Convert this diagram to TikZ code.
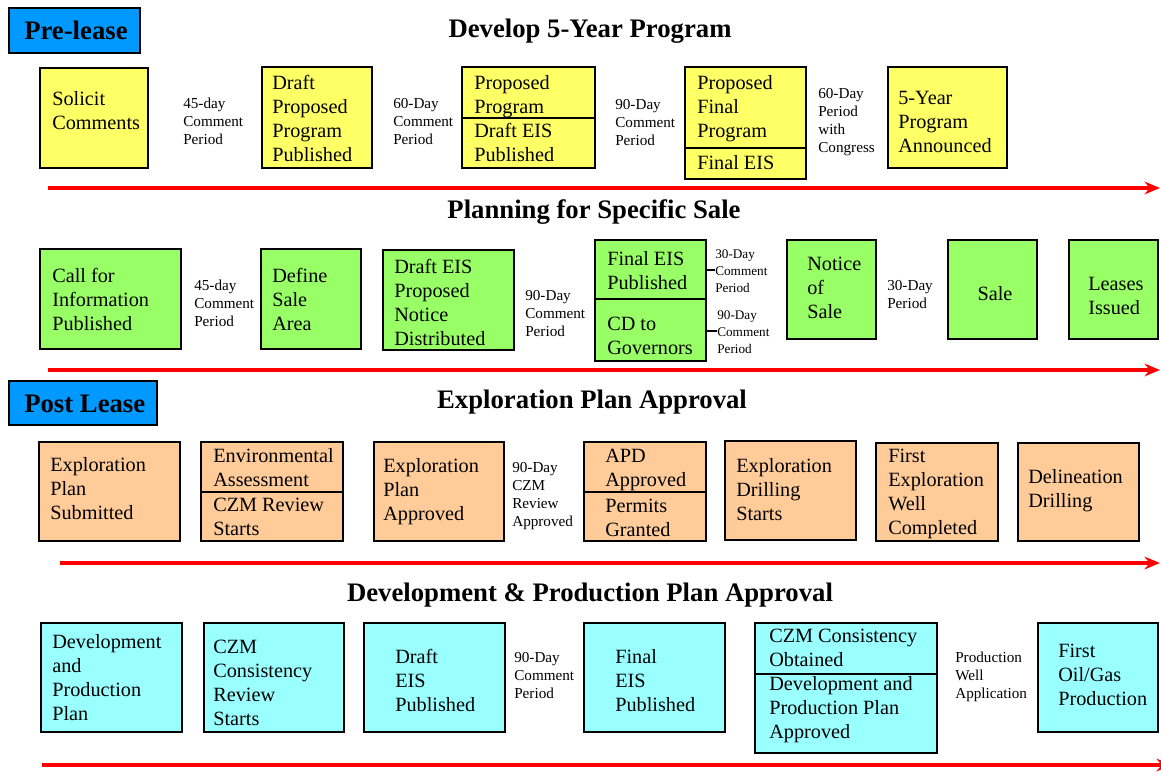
\documentclass[tikz,border=0pt]{standalone}
\usepackage{fontspec}
\setmainfont{Liberation Serif}
\usetikzlibrary{arrows.meta}
\definecolor{prefill}{RGB}{255,255,102}
\definecolor{salefill}{RGB}{153,255,102}
\definecolor{explfill}{RGB}{255,204,153}
\definecolor{devfill}{RGB}{153,255,255}
\definecolor{tagfill}{RGB}{0,153,255}
\tikzset{
  stage/.style={draw=black, line width=2pt},
  tag/.style={draw=black, line width=1.4pt, fill=tagfill},
  txt/.style={inner sep=0pt, align=left, anchor=base west, font=\fontsize{14.4}{17}\selectfont},
  gap/.style={inner sep=0pt, align=left, anchor=base west, font=\fontsize{10.8}{12.8}\selectfont},
  tiny/.style={inner sep=0pt, align=left, anchor=base west, font=\fontsize{9.4}{12}\selectfont},
  head/.style={inner sep=0pt, anchor=base, font=\fontsize{19}{22}\selectfont\bfseries},
  timeline/.style={red, line width=3pt, -{Stealth[length=11pt,width=9pt]}},
  tick/.style={line width=1.6pt}
}
\begin{document}
\begin{tikzpicture}[x=0.025cm,y=-0.025cm]
\useasboundingbox (0,0) rectangle (1161,771);

\draw[tag] (9,8) rectangle (140,53);
\node[head, anchor=base west] (prelease) at (24,39) {Pre-lease};
\node[head] (fiveyr) at (590,37) {Develop 5-Year Program};
\draw[stage, fill=prefill] (40,68) rectangle (148,168);
\node[txt] (solicit) at (52,129) {Solicit\\Comments};
\node[gap] (gapa) at (183,144) {45-day\\Comment\\Period};
\draw[stage, fill=prefill] (262,67) rectangle (372,168);
\node[txt] (dpp) at (272,161) {Draft\\Proposed\\Program\\Published};
\node[gap] (gapb) at (393,144) {60-Day\\Comment\\Period};
\draw[stage, fill=prefill] (462,67) rectangle (595,168);
\draw[stage] (462,118) -- (595,118);
\node[txt] (pp) at (474,113) {Proposed\\Program};
\node[txt] (deis) at (474,161) {Draft EIS\\Published};
\node[gap] (gapc) at (615,145) {90-Day\\Comment\\Period};
\draw[stage, fill=prefill] (685,67) rectangle (806,179);
\draw[stage] (685,148) -- (806,148);
\node[txt] (pfp) at (697,137) {Proposed\\Final\\Program};
\node[txt] (feis) at (697,169) {Final EIS};
\node[gap] (gapd) at (818,152) {60-Day\\Period\\with\\Congress};
\draw[stage, fill=prefill] (888,67) rectangle (1007,168);
\node[txt] (announce) at (898,152) {5-Year\\Program\\Announced};
\coordinate (lineA0) at (48,188);
\coordinate (lineA1) at (1160,188);
\draw[timeline] (lineA0) -- (lineA1);

\node[head] (salehd) at (594,218) {Planning for Specific Sale};
\draw[stage, fill=salefill] (40,249) rectangle (181,349);
\node[txt] (cfi) at (52,330) {Call for\\Information\\Published};
\node[gap] (gape) at (194,326) {45-day\\Comment\\Period};
\draw[stage, fill=salefill] (261,249) rectangle (361,349);
\node[txt] (dsa) at (272,330) {Define\\Sale\\Area};
\draw[stage, fill=salefill] (383,250) rectangle (514,350);
\node[txt] (dpn) at (394,345) {Draft EIS\\Proposed\\Notice\\Distributed};
\node[gap] (gapf) at (525,336) {90-Day\\Comment\\Period};
\draw[stage, fill=salefill] (595,240) rectangle (706,361);
\draw[stage] (595,299) -- (706,299);
\node[txt] (feisp) at (607,289) {Final EIS\\Published};
\node[txt] (cdg) at (607,354) {CD to\\Governors};
\node[tiny] (gapg) at (715,292) {30-Day\\Comment\\Period};
\node[tiny] (gaph) at (717,353) {90-Day\\Comment\\Period};
\coordinate (feisR) at (706,270);
\coordinate (cdgR) at (706,331);
\draw[tick] (feisR) -- (feisR -| gapg.west);
\draw[tick] (cdgR) -- (cdgR -| gaph.west);
\draw[stage, fill=salefill] (787,240) rectangle (876,339);
\node[txt] (nos) at (807,318) {Notice\\of\\Sale};
\node[gap] (gapi) at (887,308) {30-Day\\Period};
\draw[stage, fill=salefill] (948,240) rectangle (1037,339);
\node[txt, anchor=base] (sale) at (995,300) {Sale};
\draw[stage, fill=salefill] (1069,240) rectangle (1158,339);
\node[txt] (leases) at (1088,314) {Leases\\Issued};
\coordinate (lineB0) at (48,370);
\coordinate (lineB1) at (1160,370);
\draw[timeline] (lineB0) -- (lineB1);

\draw[tag] (9,381) rectangle (157,425);
\node[head, anchor=base west] (postlease) at (24,412) {Post Lease};
\node[head] (explhd) at (592,408) {Exploration Plan Approval};
\draw[stage, fill=explfill] (39,442) rectangle (180,541);
\node[txt] (eps) at (50,519) {Exploration\\Plan\\Submitted};
\draw[stage, fill=explfill] (201,442) rectangle (343,541);
\draw[stage] (201,492) -- (343,492);
\node[txt] (ea) at (213,486) {Environmental\\Assessment};
\node[txt] (czmr) at (213,535) {CZM Review\\Starts};
\draw[stage, fill=explfill] (374,442) rectangle (504,541);
\node[txt] (epa) at (383,520) {Exploration\\Plan\\Approved};
\node[gap] (gapj) at (512,526) {90-Day\\CZM\\Review\\Approved};
\draw[stage, fill=explfill] (584,442) rectangle (706,541);
\draw[stage] (584,492) -- (706,492);
\node[txt] (apd) at (605,486) {APD\\Approved};
\node[txt] (pg) at (605,536) {Permits\\Granted};
\draw[stage, fill=explfill] (725,441) rectangle (856,540);
\node[txt] (eds) at (736,520) {Exploration\\Drilling\\Starts};
\draw[stage, fill=explfill] (876,443) rectangle (998,541);
\node[txt] (fewc) at (888,534) {First\\Exploration\\Well\\Completed};
\draw[stage, fill=explfill] (1018,443) rectangle (1139,541);
\node[txt] (dd) at (1028,507) {Delineation\\Drilling};
\coordinate (lineC0) at (60,563);
\coordinate (lineC1) at (1160,563);
\draw[timeline] (lineC0) -- (lineC1);

\node[head] (devhd) at (590,601) {Development \& Production Plan Approval};
\draw[stage, fill=devfill] (41,623) rectangle (182,732);
\node[txt] (dpp4) at (52,720) {Development\\and\\Production\\Plan};
\draw[stage, fill=devfill] (204,623) rectangle (344,732);
\node[txt] (czmcr) at (213,725) {CZM\\Consistency\\Review\\Starts};
\draw[stage, fill=devfill] (364,623) rectangle (505,732);
\node[txt] (dep) at (395,711) {Draft\\EIS\\Published};
\node[gap] (gapk) at (514,698) {90-Day\\Comment\\Period};
\draw[stage, fill=devfill] (584,623) rectangle (725,732);
\node[txt] (fep) at (615,711) {Final\\EIS\\Published};
\draw[stage, fill=devfill] (755,623) rectangle (937,753);
\draw[stage] (755,674) -- (937,674);
\node[txt] (czmo) at (769,666) {CZM Consistency\\Obtained};
\node[txt] (dppa) at (769,738) {Development and\\Production Plan\\Approved};
\node[gap] (gapl) at (955,698) {Production\\Well\\Application};
\draw[stage, fill=devfill] (1038,623) rectangle (1158,732);
\node[txt] (fogp) at (1058,705) {First\\Oil/Gas\\Production};
\coordinate (lineD0) at (42,765);
\coordinate (lineD1) at (1172,765);
\draw[timeline] (lineD0) -- (lineD1);
\end{tikzpicture}
\end{document}
